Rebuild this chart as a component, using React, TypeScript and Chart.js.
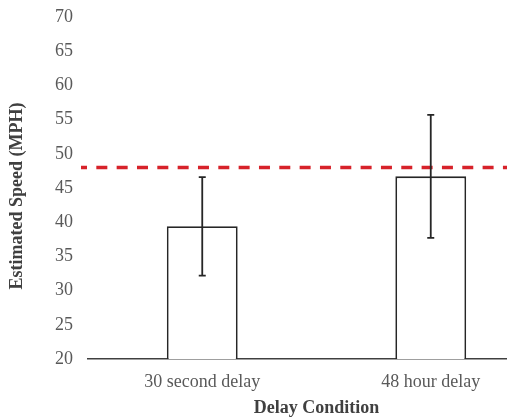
import React, { useEffect, useRef } from "react";
import { Chart, registerables } from "chart.js";

Chart.register(...registerables);

const categories = ["30 second delay", "48 hour delay"];
const meanSpeeds = [39.4, 46.7];
const errorMargins = [7.2, 9.0];
const actualSpeed = [48];
const yTicks = [20, 25, 30, 35, 40, 45, 50, 55, 60, 65, 70];
const yTitle = "Estimated Speed (MPH)";
const xTitle = "Delay Condition";

const SERIF = "'Liberation Serif', 'Times New Roman', serif";

const errorBarPlugin = {
  id: "errorBars",
  afterDatasetsDraw(chart: any) {
    const meta = chart.getDatasetMeta(0);
    const y = chart.scales.y;
    const ctx = chart.ctx;
    ctx.save();
    ctx.strokeStyle = "#262626";
    ctx.lineWidth = 1.8;
    meta.data.forEach((bar: any, i: number) => {
      const x = bar.x;
      const top = y.getPixelForValue(meanSpeeds[i] + errorMargins[i]);
      const bottom = y.getPixelForValue(meanSpeeds[i] - errorMargins[i]);
      ctx.beginPath();
      ctx.moveTo(x, top);
      ctx.lineTo(x, bottom);
      ctx.moveTo(x - 3.5, top);
      ctx.lineTo(x + 3.5, top);
      ctx.moveTo(x - 3.5, bottom);
      ctx.lineTo(x + 3.5, bottom);
      ctx.stroke();
    });
    ctx.restore();
  },
};

const refLinePlugin = {
  id: "refLine",
  afterDatasetsDraw(chart: any) {
    const y = chart.scales.y;
    const ctx = chart.ctx;
    const py = y.getPixelForValue(actualSpeed[0]);
    ctx.save();
    ctx.strokeStyle = "#d7222a";
    ctx.lineWidth = 3.5;
    ctx.setLineDash([11, 9.33]);
    ctx.lineDashOffset = 5;
    ctx.beginPath();
    ctx.moveTo(chart.chartArea.left - 7, py);
    ctx.lineTo(chart.width, py);
    ctx.stroke();
    ctx.restore();
  },
};

const yTitlePlugin = {
  id: "yTitleCustom",
  afterDraw(chart: any) {
    const ctx = chart.ctx;
    const { top, bottom } = chart.chartArea;
    ctx.save();
    ctx.translate(17, (top + bottom) / 2 + 8);
    ctx.rotate(-Math.PI / 2);
    ctx.font = `bold 18px ${SERIF}`;
    ctx.fillStyle = "#404040";
    ctx.textAlign = "center";
    ctx.textBaseline = "middle";
    ctx.fillText(yTitle, 0, 0);
    ctx.restore();
  },
};

export default function App() {
  const ref = useRef<HTMLCanvasElement | null>(null);

  useEffect(() => {
    if (!ref.current) return;
    const chart = new Chart(ref.current, {
      type: "bar",
      data: {
        labels: categories,
        datasets: [
          {
            data: meanSpeeds,
            backgroundColor: "#ffffff",
            borderColor: "#262626",
            borderWidth: 1.8,
            borderSkipped: false,
            barPercentage: 0.31,
            categoryPercentage: 1,
          },
        ],
      },
      options: {
        responsive: false,
        animation: false,
        devicePixelRatio: 1,
        layout: { padding: { top: 0, right: 3, left: 0, bottom: 0 } },
        plugins: {
          legend: { display: false },
          tooltip: { enabled: false },
        },
        scales: {
          x: {
            type: "category",
            grid: { display: false, drawTicks: false },
            border: { display: true, color: "#404040", width: 1.5 },
            ticks: {
              color: "#595959",
              font: { family: SERIF, size: 18 },
              padding: 12,
            },
            title: {
              display: true,
              text: xTitle,
              color: "#404040",
              font: { family: SERIF, size: 18, weight: "bold", lineHeight: 1.0 },
              padding: { top: 0, bottom: 0 },
            },
            afterFit(scale: any) {
              scale.height = 58;
            },
          },
          y: {
            min: 20,
            max: 70,
            afterBuildTicks(scale: any) {
              scale.ticks = yTicks.map((v) => ({ value: v }));
            },
            grid: { display: false, drawTicks: false },
            border: { display: false },
            ticks: {
              color: "#595959",
              font: { family: SERIF, size: 18 },
              padding: 15,
            },
            title: { display: false },
            afterFit(scale: any) {
              scale.width = 88;
              scale.paddingTop = 17;
              scale.paddingBottom = 0;
            },
          },
        },
      },
      plugins: [refLinePlugin, errorBarPlugin, yTitlePlugin],
    } as any);
    return () => chart.destroy();
  }, []);

  return (
    <div
      style={{
        position: "fixed",
        left: 0,
        top: 0,
        width: 507,
        height: 417,
        overflow: "hidden",
        background: "#ffffff",
      }}
    >
      <canvas ref={ref} width={548} height={417} style={{ display: "block" }} />
    </div>
  );
}
